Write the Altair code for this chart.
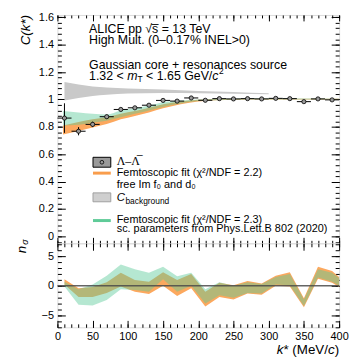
import altair as alt
import pandas as pd

FONT = "Arial"
SERIF = "Liberation Serif"

# ---------------- data: Lambda-antiLambda correlation ----------------
k_data = [10, 30, 50, 70, 90, 110, 130, 150, 170, 190, 210, 230, 250, 270, 290, 310, 330, 350, 370, 390]
c_data = [0.864, 0.768, 0.818, 0.874, 0.927, 0.939, 0.958, 0.993, 0.988, 1.011, 0.994, 1.006,
          1.004, 1.006, 1.004, 1.008, 1.006, 0.984, 1.004, 0.997]
c_err = [0.108, 0.030, 0.020, 0.015, 0.012, 0.010, 0.009, 0.008, 0.008, 0.007, 0.007, 0.007,
         0.006, 0.006, 0.006, 0.006, 0.006, 0.006, 0.006, 0.006]
half_bin = 10

# background band
bg_k = [10, 30, 50, 70, 100, 150, 200, 250, 300]
bg_lo = [0.993, 1.010, 1.025, 1.035, 1.043, 1.047, 1.045, 1.042, 1.038]
bg_hi = [1.127, 1.110, 1.095, 1.088, 1.080, 1.072, 1.062, 1.055, 1.045]

# femtoscopic fits (top panel)
fit_k = [8, 30, 50, 70, 90, 110, 130, 150, 175, 200, 250, 300, 350, 400]
fit1_lo = [0.745, 0.770, 0.795, 0.820, 0.855, 0.880, 0.905, 0.935, 0.965, 0.985, 0.998, 1.000, 1.000, 1.000]
fit1_hi = [0.810, 0.835, 0.855, 0.870, 0.895, 0.915, 0.940, 0.965, 0.985, 0.997, 1.004, 1.006, 1.006, 1.006]
fit2_lo = [0.810, 0.815, 0.830, 0.845, 0.870, 0.895, 0.920, 0.945, 0.970, 0.988, 0.998, 1.000, 1.000, 1.000]
fit2_hi = [0.915, 0.905, 0.895, 0.890, 0.920, 0.935, 0.955, 0.980, 0.993, 1.000, 1.006, 1.008, 1.007, 1.006]

# n_sigma (bottom panel)
ns_k = [10, 30, 50, 70, 90, 110, 130, 150, 170, 190, 210, 230, 250, 270, 290, 310, 330, 350, 370, 390, 400]
ns1_lo = [0.2, -1.9, -1.9, -1.2, -0.1, -1.0, -1.4, 0.0, -1.7, -0.4, -3.5, -1.9, -2.3, -1.3, -1.5, 0.0, -0.1, -3.6, 1.2, 0.5, -0.2]
ns1_hi = [1.1, -0.4, -0.2, 0.6, 2.2, 1.0, 0.7, 2.3, 1.0, 2.0, -1.0, 0.5, 0.1, 0.8, 0.4, 1.7, 2.3, -2.1, 3.2, 2.5, 1.5]
ns2_lo = [-0.1, -3.2, -3.3, -2.4, -0.6, -0.7, -1.0, 1.1, -1.0, 0.0, -3.0, -1.6, -2.0, -1.2, -1.3, 0.2, 0.1, -3.4, 1.4, 0.7, 0.0]
ns2_hi = [0.7, -0.6, 0.2, 1.7, 3.6, 2.8, 2.2, 3.2, 1.6, 2.2, -0.6, 0.6, 0.0, 0.6, 0.3, 1.5, 2.0, -2.3, 2.8, 2.2, 1.3]

# axis ticks
X_MAJOR = [0, 50, 100, 150, 200, 250, 300, 350, 400]
X_MINOR = [v for v in range(0, 401, 10)]
YT_MAJOR = [0, 0.2, 0.4, 0.6, 0.8, 1, 1.2, 1.4, 1.6]
YT_MINOR = [round(i * 0.04, 2) for i in range(-1, 41)]
YB_MAJOR = [-5, 0, 5]
YB_MINOR = [v for v in range(-7, 8)]

# ---------------- styling ----------------
ORANGE = "#fca85e"
ORANGE_LINE = "#f99d4c"
GREEN = "#5cc99a"
GREEN_LINE = "#5fcb98"
GREY_BAND = "#c9c9c9"

TICK_FS = 11
ANN_FS = 12.5
LEG_FS = 11
TITLE_FS = 13.5
SUB_FS = 8.5

# approximate Arial advance widths (em), used to chain mixed-style text pieces
AW = {" ": .278, ".": .278, "<": .584, "/": .278, "*": .389, "(": .333, ")": .333,
      "0": .556, "1": .556, "2": .556, "3": .556, "5": .556, "6": .556,
      "G": .778, "e": .556, "V": .667, "m": .833, "T": .611, "c": .5, "k": .5, "M": .833, "C": .722}


def tw(s, size):
    return sum(AW.get(ch, 0.55) for ch in s) * size


xs = alt.Scale(domain=[0, 400], nice=False, zero=False)
yts = alt.Scale(domain=[-0.0505, 1.617], nice=False, zero=False)
ybs = alt.Scale(domain=[-7.0, 7.17], nice=False, zero=False)

ONE = pd.DataFrame({"d": [0]})


def txt(s, x, y, size=ANN_FS, style="normal", align="left", angle=0, family=FONT):
    return alt.Chart(ONE).mark_text(
        text=s, fontSize=size, fontStyle=style, align=align, baseline="middle",
        angle=angle, font=family, color="black"
    ).encode(x=alt.value(x), y=alt.value(y))


def chain(pieces, x0, y):
    """pieces: (text, size, style, dy, gap_before)"""
    out = []
    x = x0
    for s, size, style, dy, gap in pieces:
        x += gap
        out.append(txt(s, round(x, 1), y + dy, size=size, style=style))
        x += tw(s, size)
    return out


Y_TOP_LABEL = "'' + datum.value"
Y_BOT_LABEL = "datum.value < 0 ? '\u2212' + (-datum.value) : '' + datum.value"


def axis_layers(yscale, ymid, ymaj, ymin, ymaj_len, ymin_len, xmaj_len, xmin_len, xlabels, ylabel_expr):
    d = pd.DataFrame({"k": [200.0], "v": [ymid]})
    out = []
    for xo, yo, major in [("bottom", "left", True), ("bottom", "left", False),
                          ("top", "right", True), ("top", "right", False)]:
        xl = xmaj_len if major else xmin_len
        yl = ymaj_len if major else ymin_len
        xa = alt.Axis(orient=xo, values=X_MAJOR if major else X_MINOR, tickSize=xl, offset=-xl,
                      labels=bool(major and xo == "bottom" and xlabels), domain=False, grid=False,
                      title=None, tickColor="black", tickWidth=1, labelFont=FONT,
                      labelFontSize=TICK_FS, labelColor="black", labelPadding=3, format="d",
                      labelFlush=False, labelOverlap=False)
        ya = alt.Axis(orient=yo, values=ymaj if major else ymin, tickSize=yl, offset=-yl,
                      labels=bool(major and yo == "left"), domain=False, grid=False,
                      title=None, tickColor="black", tickWidth=1, labelFont=FONT,
                      labelFontSize=TICK_FS, labelColor="black", labelPadding=4,
                      labelExpr=ylabel_expr, labelFlush=False, labelOverlap=False)
        out.append(alt.Chart(d).mark_point(opacity=0).encode(
            x=alt.X("k:Q", scale=xs, axis=xa), y=alt.Y("v:Q", scale=yscale, axis=ya)))
    return out


# ---------------- top panel ----------------
df_pts = pd.DataFrame({"k": k_data, "c": c_data, "e": c_err})
df_pts["k_lo"] = df_pts["k"] - half_bin
df_pts["k_hi"] = df_pts["k"] + half_bin
df_pts["c_lo"] = df_pts["c"] - df_pts["e"]
df_pts["c_hi"] = df_pts["c"] + df_pts["e"]

df_bg = pd.DataFrame({"k": bg_k, "lo": bg_lo, "hi": bg_hi})
df_f1 = pd.DataFrame({"k": fit_k, "lo": fit1_lo, "hi": fit1_hi})
df_f2 = pd.DataFrame({"k": fit_k, "lo": fit2_lo, "hi": fit2_hi})


def band(df, yscale, color, opacity, interp):
    return alt.Chart(df).mark_area(color=color, opacity=opacity, interpolate=interp).encode(
        x=alt.X("k:Q", scale=xs, axis=None),
        y=alt.Y("lo:Q", scale=yscale, axis=None),
        y2="hi:Q")


mt_line = chain([
    ("1.32 <", ANN_FS, "normal", 0, 0),
    ("m", ANN_FS, "italic", 0, tw(" ", ANN_FS)),
    ("T", SUB_FS, "normal", 3, 0),
    ("< 1.65 GeV/", ANN_FS, "normal", 0, tw(" ", ANN_FS)),
    ("c", ANN_FS, "italic", 0, 0),
    ("2", SUB_FS, "normal", -5, 0.5),
], 32, 62)

top_layers = [
    band(df_bg, yts, GREY_BAND, 1.0, "monotone"),
    band(df_f1, yts, ORANGE, 1.0, "monotone"),
    band(df_f2, yts, GREEN, 0.45, "monotone"),
    alt.Chart(df_pts).mark_rule(color="black", strokeWidth=1).encode(
        x=alt.X("k_lo:Q", scale=xs, axis=None), x2="k_hi:Q",
        y=alt.Y("c:Q", scale=yts, axis=None)),
    alt.Chart(df_pts).mark_rule(color="black", strokeWidth=1).encode(
        x=alt.X("k:Q", scale=xs, axis=None),
        y=alt.Y("c_lo:Q", scale=yts, axis=None), y2="c_hi:Q"),
    alt.Chart(df_pts).mark_circle(size=18, fill="#9a9a9a", stroke="black", strokeWidth=0.8,
                                  opacity=1).encode(
        x=alt.X("k:Q", scale=xs, axis=None),
        y=alt.Y("c:Q", scale=yts, axis=None)),
    # legend symbols
    alt.Chart(ONE).mark_rect(fill="#9a9a9a", stroke="black", strokeWidth=1).encode(
        x=alt.value(36), x2=alt.value(54), y=alt.value(144), y2=alt.value(154)),
    alt.Chart(ONE).mark_circle(size=14, fill="#9a9a9a", stroke="black", strokeWidth=0.8,
                               opacity=1).encode(x=alt.value(45), y=alt.value(149)),
    alt.Chart(ONE).mark_rule(color=ORANGE_LINE, strokeWidth=3).encode(
        x=alt.value(36), x2=alt.value(54), y=alt.value(160)),
    alt.Chart(ONE).mark_rect(fill="#cfcfcf", stroke="#a0a0a0", strokeWidth=1).encode(
        x=alt.value(36), x2=alt.value(54), y=alt.value(180), y2=alt.value(189)),
    alt.Chart(ONE).mark_rule(color=GREEN_LINE, strokeWidth=3).encode(
        x=alt.value(36), x2=alt.value(54), y=alt.value(208)),
    # legend text
    txt("\u039b\u2013\u039b\u0305", 60, 148, size=12, family=SERIF),
    txt("Femtoscopic fit (\u03c7\u00b2/NDF = 2.2)", 60, 160, size=LEG_FS),
    txt("free Im f\u2080 and d\u2080", 60, 172, size=LEG_FS),
    txt("C", 60, 185, size=11.5, style="italic"),
    txt("background", 60 + tw("C", 11.5) + 0.5, 188, size=SUB_FS),
    txt("Femtoscopic fit (\u03c7\u00b2/NDF = 2.3)", 60, 207, size=LEG_FS),
    txt("sc. parameters from Phys.Lett.B 802 (2020)", 60, 217, size=LEG_FS),
    # annotations
    txt("ALICE pp \u221as\u0305 = 13 TeV", 32, 14.5),
    txt("High Mult. (0\u20130.17% INEL>0)", 32, 25.5),
    txt("Gaussian core + resonances source", 32, 50.3),
    # y title
    txt("C(k*)", -32, 0, size=TITLE_FS, style="italic", align="right", angle=270),
] + mt_line
top_layers += axis_layers(yts, 0.5, YT_MAJOR, YT_MINOR, 8, 4, 6, 3, False, Y_TOP_LABEL)
top = alt.layer(*top_layers).resolve_axis(x="independent", y="independent").properties(
    width=285, height=231)

# ---------------- bottom panel ----------------
df_ns1 = pd.DataFrame({"k": ns_k, "lo": ns1_lo, "hi": ns1_hi})
df_ns2 = pd.DataFrame({"k": ns_k, "lo": ns2_lo, "hi": ns2_hi})
df_zero = pd.DataFrame({"v": [0.0]})

xt_pieces = [("k", TITLE_FS, "italic", 0, 0), ("* (MeV/", TITLE_FS, "normal", 0, 0),
             ("c", TITLE_FS, "italic", 0, 0), (")", TITLE_FS, "normal", 0, 0)]
xt_width = sum(tw(p[0], p[1]) for p in xt_pieces)
xt_line = chain(xt_pieces, 285 - xt_width, 107.5)

bot_layers = [
    band(df_ns1, ybs, ORANGE, 1.0, "linear"),
    band(df_ns2, ybs, GREEN, 0.45, "linear"),
    alt.Chart(df_zero).mark_rule(color="#4a4a4a", strokeWidth=1.5, opacity=0.85).encode(
        y=alt.Y("v:Q", scale=ybs, axis=None)),
    # y title
    txt("n", -36, 10, size=TITLE_FS, style="italic", angle=270),
    txt("\u03c3", -32.5, 1.5, size=9, style="italic", angle=270),
] + xt_line
bot_layers += axis_layers(ybs, 0.0, YB_MAJOR, YB_MINOR, 8, 4, 7, 3.5, True, Y_BOT_LABEL)
bottom = alt.layer(*bot_layers).resolve_axis(x="independent", y="independent").properties(
    width=285, height=85)

chart = alt.vconcat(top, bottom, spacing=0, bounds="flush").properties(
    padding={"left": 6, "top": 0, "right": 0, "bottom": 0}
).configure_view(stroke="black", strokeWidth=1).configure(background="white")

chart.save("out.html", embed_options={"renderer": "svg", "actions": False})
